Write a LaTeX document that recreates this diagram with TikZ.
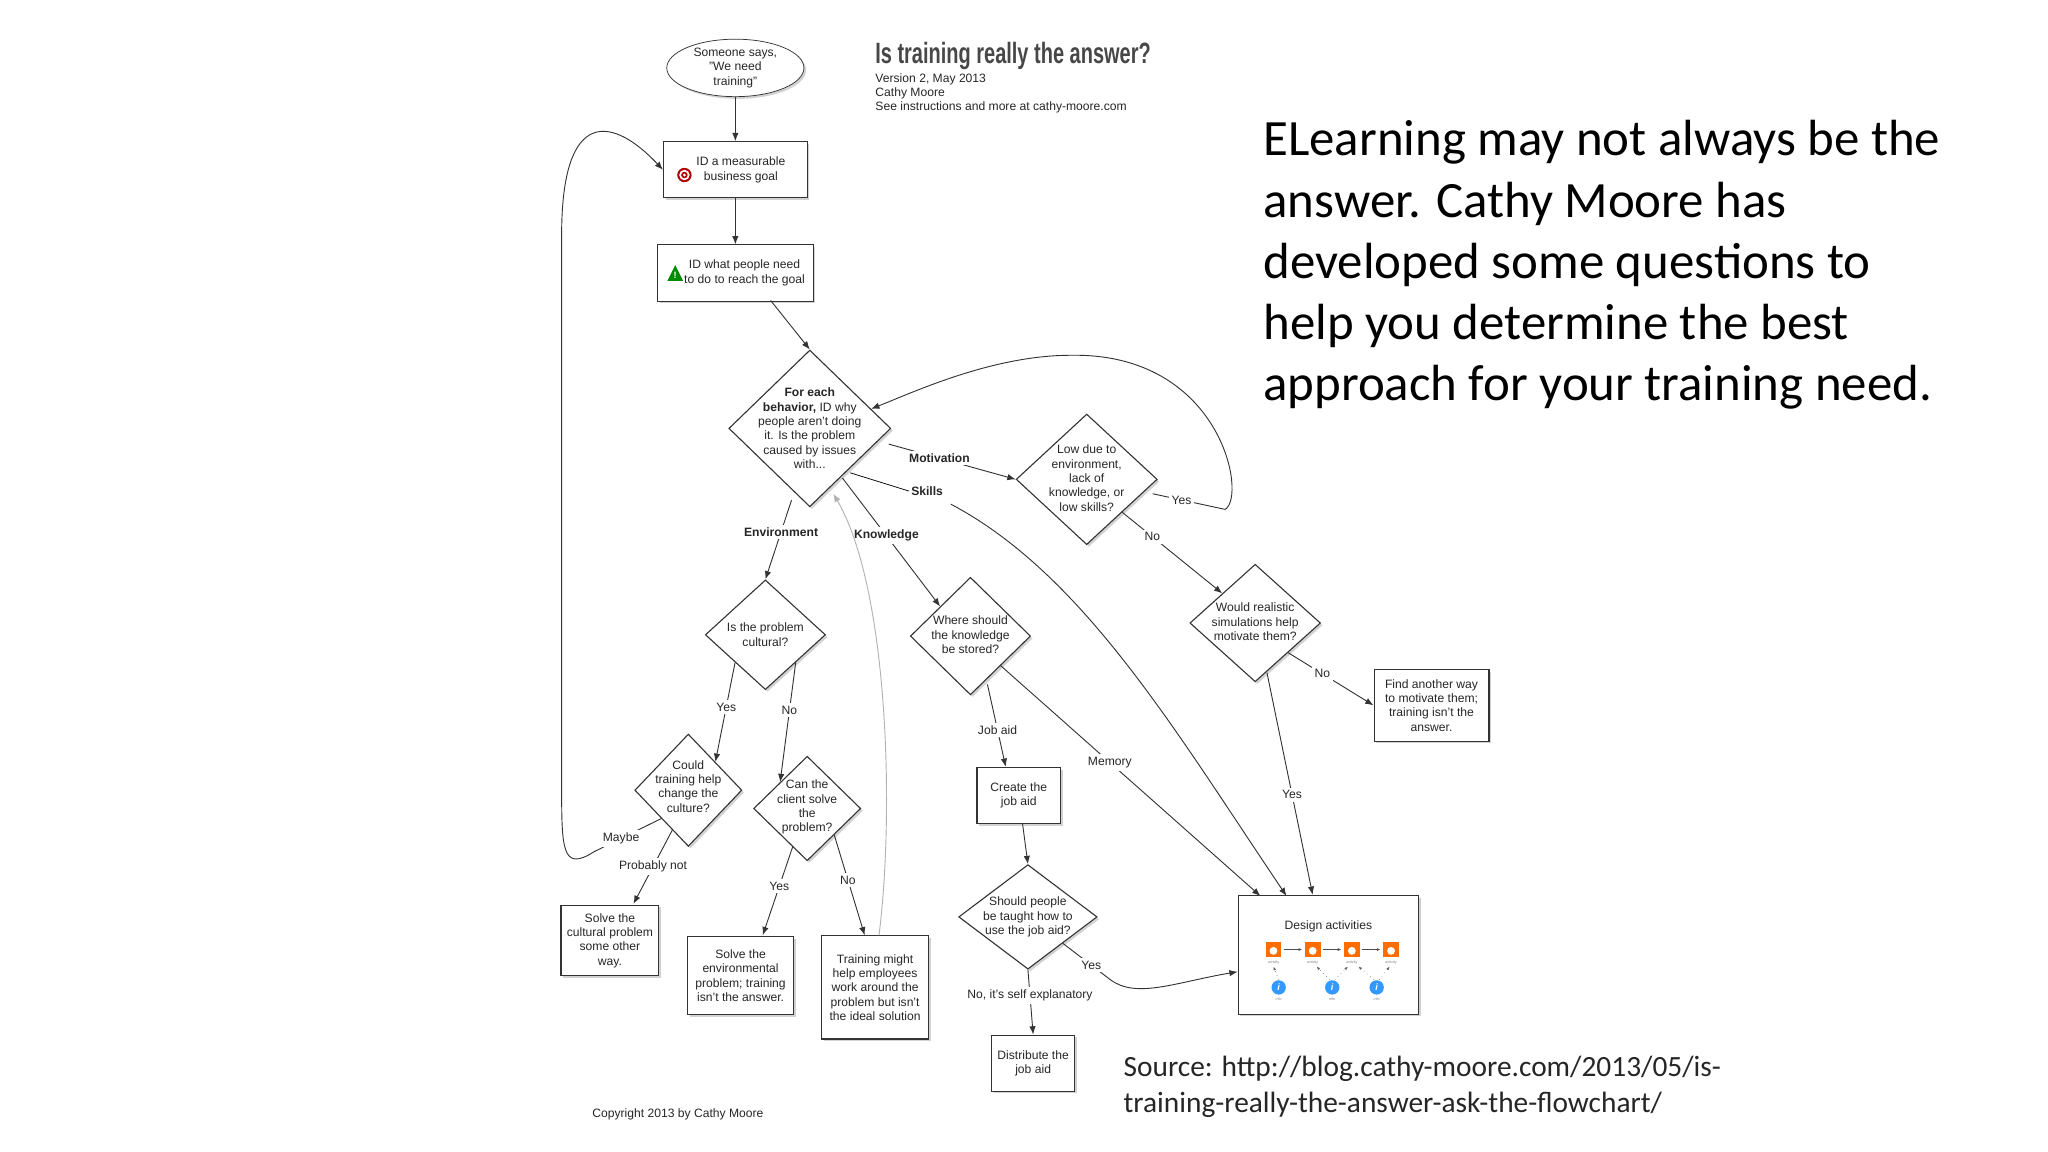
\documentclass[tikz,border=0pt]{standalone}
\usepackage{fontspec}
\setmainfont{Liberation Sans}
\newfontfamily\calfont{Carlito}
\usetikzlibrary{shapes.geometric,arrows.meta,shadows,calc}
\begin{document}
\begin{tikzpicture}[x=0.025cm,y=-0.025cm,
  every node/.style={font=\fontsize{6.6}{7.8}\selectfont, text=black!85},
  sh/.style={drop shadow={shadow xshift=1.2pt,shadow yshift=-1.2pt,fill=black!35}},
  box/.style={draw=black!80,fill=white,sh,align=center,inner sep=1pt,line width=0.6pt},
  dia/.style={diamond,draw=black!80,fill=white,sh,align=center,inner sep=0pt,line width=0.6pt},
  ar/.style={-{Latex[length=4.5pt,width=3.5pt]},draw=black!80,line width=0.5pt},
  lbl/.style={fill=white,inner sep=1.5pt},
  blbl/.style={lbl,font=\fontsize{6.6}{7.8}\selectfont\bfseries},
]
\useasboundingbox (0,0) rectangle (1568,882);
% nodes
\node[ellipse,draw=black!80,fill=white,sh,align=center,minimum width=105*0.025cm,minimum height=44*0.025cm,inner sep=0pt] (s) at (563,52) {Someone says,\\"We need\\training"};
\node[anchor=west,font=\bfseries\fontsize{16}{18}\selectfont,text=black!72,xscale=0.68,transform shape,inner sep=0pt] (title) at (670,43) {Is training really the answer?};
\node[anchor=north west,align=left,inner sep=0pt] (sub) at (670,56) {Version 2, May 2013\\Cathy Moore\\See instructions and more at cathy-moore.com};
\node[box,minimum width=110*0.025cm,minimum height=43*0.025cm] (goal) at (563,130) {\hspace{6pt}ID a measurable\\\hspace{6pt}business goal};
\fill[red!70!black] (524,134) circle (5.5);
\fill[white] (524,134) circle (4);
\fill[red!70!black] (524,134) circle (2.5);
\fill[white] (524,134) circle (1.2);
\node[box,minimum width=119*0.025cm,minimum height=43*0.025cm] (need) at (563,209) {\hspace{10pt}ID what people need\\\hspace{10pt}to do to reach the goal};
\fill[green!55!black] (511,215) -- (517,203) -- (523,215) -- cycle;
\node[font=\fontsize{5}{5}\selectfont\bfseries,text=white] at (517,211) {!};
\node[dia,minimum width=124*0.025cm,minimum height=120*0.025cm] (main) at (620,328) {};
\node[align=center] at (620,328) {\textbf{For each}\\\textbf{behavior,} ID why\\people aren't doing\\it. Is the problem\\caused by issues\\with...};
\node[dia,minimum width=108*0.025cm,minimum height=100*0.025cm] (low) at (832,367) {};
\node[align=center] at (832,366) {Low due to\\environment,\\lack of\\knowledge, or\\low skills?};
\node[dia,minimum width=100*0.025cm,minimum height=90*0.025cm] (real) at (961,477) {};
\node[align=center] at (961,476) {Would realistic\\simulations help\\motivate them?};
\node[box,minimum width=88*0.025cm,minimum height=55*0.025cm] (find) at (1096,540) {Find another way\\to motivate them;\\training isn't the\\answer.};
\node[dia,minimum width=92*0.025cm,minimum height=84*0.025cm] (cult) at (586,486) {};
\node[align=center] at (586,486) {Is the problem\\cultural?};
\node[dia,minimum width=92*0.025cm,minimum height=90*0.025cm] (where) at (743,487) {};
\node[align=center] at (743,486) {Where should\\the knowledge\\be stored?};
\node[dia,minimum width=82*0.025cm,minimum height=86*0.025cm] (could) at (527,605) {};
\node[align=center] at (527,602) {Could\\training help\\change the\\culture?};
\node[dia,minimum width=82*0.025cm,minimum height=80*0.025cm] (can) at (618,619) {};
\node[align=center] at (618,618) {Can the\\client solve\\the\\problem?};
\node[box,minimum width=64*0.025cm,minimum height=43*0.025cm] (create) at (780,609) {Create the\\job aid};
\node[dia,minimum width=106*0.025cm,minimum height=80*0.025cm] (should) at (787,702) {};
\node[align=center] at (787,702) {Should people\\be taught how to\\use the job aid?};
\node[box,minimum width=138*0.025cm,minimum height=91*0.025cm] (design) at (1017,731) {};
\node (dt) at (1017,709) {Design activities};
\foreach \i/\x in {1/975,2/1005,3/1035,4/1065}{
  \fill[orange!85!red] (\x-6,721) rectangle (\x+6,733);
  \fill[white] (\x,728) circle (3);
  \node[font=\fontsize{2}{2}\selectfont,text=black!50,inner sep=0pt] at (\x,737) {activity};
}
\foreach \a/\b in {975/1005,1005/1035,1035/1065}{\draw[-{Latex[length=2pt]},black!70,line width=0.3pt] (\a+8,727) -- (\b-8,727);}
\foreach \x in {979,1020,1054}{
  \fill[blue!50!cyan!80] (\x,756) circle (5.5);
  \node[font=\fontsize{5}{5}\selectfont\bfseries\itshape,text=white,inner sep=0pt] at (\x,756) {i};
  \node[font=\fontsize{2}{2}\selectfont,text=black!50,inner sep=0pt] at (\x,765) {info};
}
\draw[-{Latex[length=2pt]},black!60,dotted,line width=0.3pt] (979,750)--(975,740);
\draw[-{Latex[length=2pt]},black!60,dotted,line width=0.3pt] (1018,750)--(1008,740);
\draw[-{Latex[length=2pt]},black!60,dotted,line width=0.3pt] (1022,750)--(1032,740);
\draw[-{Latex[length=2pt]},black!60,dotted,line width=0.3pt] (1052,750)--(1040,740);
\draw[-{Latex[length=2pt]},black!60,dotted,line width=0.3pt] (1056,750)--(1064,740);
\node[box,minimum width=75*0.025cm,minimum height=54*0.025cm] (solc) at (467,720) {Solve the\\cultural problem\\some other\\way.};
\node[box,minimum width=81*0.025cm,minimum height=60*0.025cm] (sole) at (567,747) {Solve the\\environmental\\problem; training\\isn't the answer.};
\node[box,minimum width=82*0.025cm,minimum height=79*0.025cm] (tm) at (670,756) {Training might\\help employees\\work around the\\problem but isn't\\the ideal solution};
\node[box,minimum width=64*0.025cm,minimum height=43*0.025cm] (dist) at (791,814) {Distribute the\\job aid};
\node (copy) at (519,853) {Copyright 2013 by Cathy Moore};
% right text
\node[anchor=north west,align=left,inner sep=0pt,font=\calfont\fontsize{27.7}{33.3}\selectfont,text=black] (rt) at (967,92) {ELearning may not always be the\\answer. Cathy Moore has\\developed some questions to\\help you determine the best\\approach for your training need.};
\node[anchor=north west,align=left,inner sep=0pt,font=\calfont\fontsize{16}{19.6}\selectfont,text=black!85] (src) at (860,808) {Source: http://blog.cathy-moore.com/2013/05/is-\\training-really-the-answer-ask-the-flowchart/};
% connectors
\draw[ar] (s) -- (goal);
\draw[ar] (goal) -- (need);
\draw[ar] (590,230) -- (main.north);
\draw[ar] ($(main.east)+(-2,12)$) -- node[blbl,pos=0.4]{Motivation} (low.west);
\draw[ar] ($(low.east)+(-4,11)$) -- node[lbl,pos=0.4]{Yes} (938,390) .. controls (955,380) and (935,270) .. (820,272) .. controls (760,272) and (700,300) .. (667,313);
\draw[ar] (low.south east) -- node[lbl,pos=0.3]{No} (real.north west);
\draw[ar] (real.south east) -- node[lbl,pos=0.4]{No} (find.west);
\draw[ar] (970,515) -- node[lbl,pos=0.55]{Yes} ($(design.north)+(-12,0)$);
\draw (651,362) -- (696,376) node[blbl,anchor=west,inner sep=1pt] (sk) {Skills};
\draw[ar] (728,386) .. controls (830,440) and (900,560) .. (985,686);
\draw[ar] (645,366) -- node[blbl,pos=0.45]{Knowledge} (where.north west);
\draw[ar] (606,383) -- node[blbl,pos=0.4]{Environment} (cult.north);
\draw[ar] (cult.south west) -- node[lbl,pos=0.45]{Yes} (could.north east);
\draw[ar] (cult.south east) -- node[lbl,pos=0.4]{No} (can.north west);
\draw[ar] (515,635) -- node[lbl,pos=0.5]{Probably not} (485,692);
\draw[ar] (could.south west) -- node[lbl,pos=0.6]{Maybe} (455,652) .. controls (430,668) and (430,650) .. (430,600) -- (430,180) .. controls (430,80) and (470,90) .. (goal.west);
\draw[ar] (607,648) -- node[lbl,pos=0.45]{Yes} (584,716);
\draw[ar] (can.south east) -- node[lbl,pos=0.45]{No} ($(tm.north)+(-8,0)$);
\draw[-{Latex[length=4.5pt,width=3.5pt]},black!30,line width=0.5pt] ($(tm.north)+(3,0)$) .. controls (685,620) and (680,450) .. (638,378);
\draw[ar] (756,524) -- node[lbl,pos=0.55]{Job aid} ($(create.north)+(-10,0)$);
\draw[ar] (where.south east) -- node[lbl,pos=0.42]{Memory} (965,686);
\draw[ar] (create) -- (should.north);
\draw[ar] (should.south) -- node[lbl,pos=0.4]{No, it's self explanatory} (dist.north);
\draw[ar] (should.south east) -- node[lbl,pos=0.6]{Yes} (850,750) .. controls (870,765) and (900,752) .. ($(design.west)+(0,13)$);
\end{tikzpicture}
\end{document}
